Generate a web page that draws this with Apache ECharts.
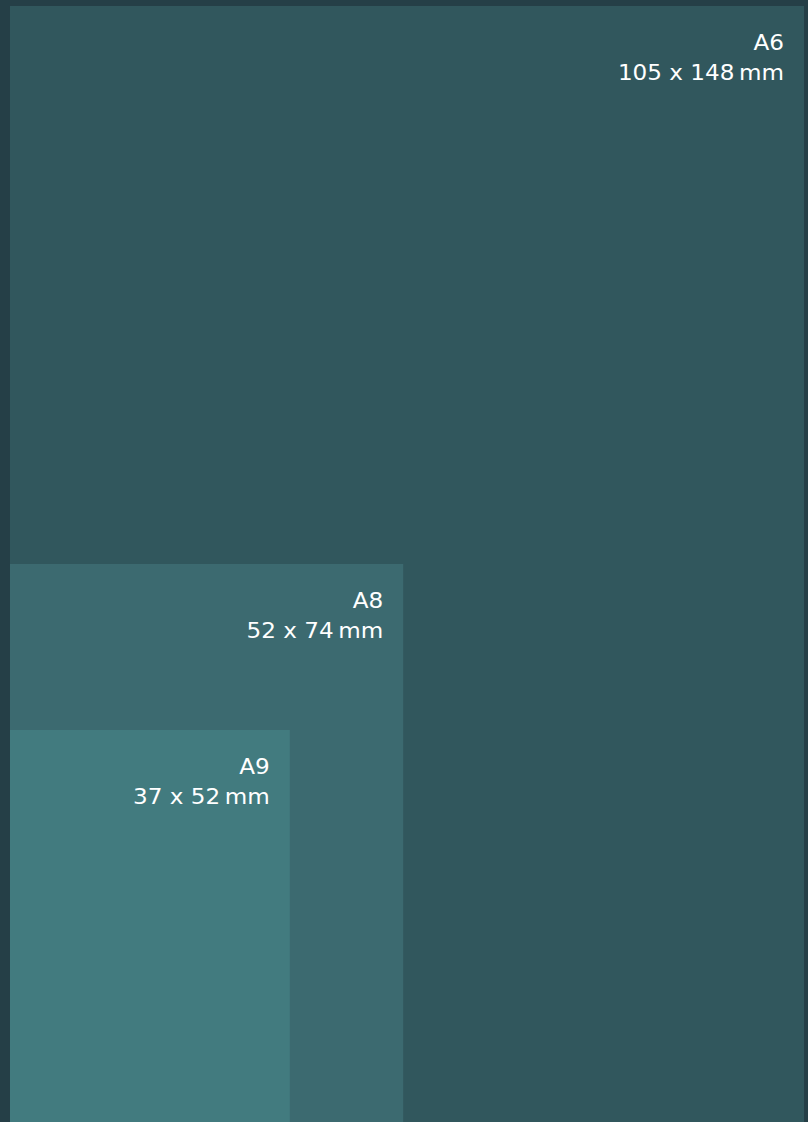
<!DOCTYPE html>
<html><head><meta charset="utf-8">
<script src="https://cdn.jsdelivr.net/npm/echarts@6/dist/echarts.min.js"></script>
<style>html,body{margin:0;padding:0;background:#253f47;}#c{width:808px;height:1122px;}</style>
</head><body><div id="c"></div>
<script>
const names = ['A6', 'A8', 'A9'];
const widthsMm = [105, 52, 37];
const heightsMm = [148, 74, 52];
const colors = ['#31575d', '#3c6a70', '#427b7f'];

const data = names.map((n, i) => [widthsMm[i], heightsMm[i], i]);
const chart = echarts.init(document.getElementById('c'), null, {renderer: 'svg'});
const FONT = '400 21px "DejaVu Sans"';
chart.setOption({
  backgroundColor: '#253f47',
  animation: false,
  grid: {left: 10, top: 6, width: 794, height: 1120},
  xAxis: {type: 'value', min: 0, max: 105, show: false},
  yAxis: {type: 'value', min: 0, max: 148, show: false},
  series: [{
    type: 'custom',
    clip: false,
    data: data,
    renderItem: function (params, api) {
      const w = api.value(0), h = api.value(1), i = api.value(2);
      const p0 = api.coord([0, 0]);
      const p1 = api.coord([w, h]);
      const x = p0[0], y = p1[1], rw = p1[0] - p0[0], rh = p0[1] - p1[1];
      return {
        type: 'group',
        children: [
          {type: 'rect', shape: {x: x, y: y, width: rw, height: rh}, style: {fill: colors[i]}},
          {type: 'text', x: p1[0] - 20, y: y + 47, scaleX: 1.1,
            style: {text: names[i], fill: '#ffffff', font: FONT, align: 'right', verticalAlign: 'bottom'}},
          {type: 'text', x: p1[0] - 20, y: y + 77, scaleX: 1.1,
            style: {text: w + ' x ' + h + '\u2009mm', fill: '#ffffff', font: FONT, align: 'right', verticalAlign: 'bottom'}}
        ]
      };
    }
  }]
});
</script></body></html>
